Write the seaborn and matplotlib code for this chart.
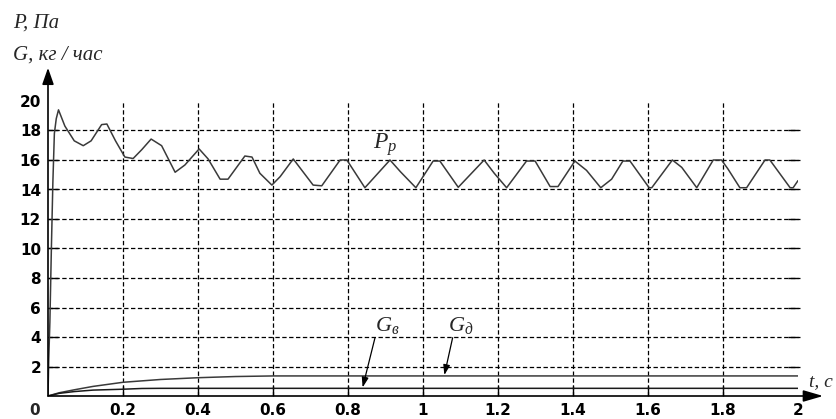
import matplotlib
matplotlib.use('Agg')
import matplotlib.pyplot as plt
import seaborn as sns

# pressure P_p over time
t_p = [0, 0.002, 0.005, 0.009, 0.013, 0.017, 0.022, 0.028, 0.045, 0.07,
       0.094, 0.115, 0.143, 0.157, 0.18, 0.205, 0.227, 0.25, 0.275, 0.303,
       0.339, 0.365, 0.403, 0.427, 0.459, 0.48, 0.525, 0.544, 0.565, 0.597,
       0.619, 0.654, 0.68, 0.707, 0.73, 0.779, 0.797, 0.845, 0.912, 0.94,
       0.981, 1.027, 1.045, 1.094, 1.163, 1.19, 1.223, 1.276, 1.299, 1.339,
       1.36, 1.405, 1.436, 1.474, 1.503, 1.533, 1.552, 1.603, 1.61, 1.665,
       1.69, 1.73, 1.774, 1.796, 1.813, 1.845, 1.863, 1.912, 1.925, 1.979,
       1.987, 2.0]
p_p = [0, 2.5, 5, 10, 14.5, 17.8, 18.8, 19.4, 18.3, 17.3,
       16.97, 17.3, 18.4, 18.44, 17.3, 16.2, 16.1, 16.7, 17.42, 16.97,
       15.17, 15.66, 16.75, 16.07, 14.7, 14.7, 16.27, 16.2, 15.1, 14.3,
       14.87, 16.07, 15.2, 14.3, 14.25, 16.0, 16.0, 14.12, 16.0, 15.2,
       14.12, 15.93, 15.93, 14.15, 16.0, 15.1, 14.12, 15.93, 15.93, 14.2,
       14.2, 15.93, 15.3, 14.12, 14.7, 15.93, 15.93, 14.12, 14.12, 16.0,
       15.5, 14.12, 16.0, 16.0, 15.4, 14.12, 14.12, 16.0, 16.0, 14.12,
       14.12, 14.6]

# flow rates G_д (upper) and G_в (lower)
t_gd = [0, 0.03, 0.07, 0.12, 0.2, 0.3, 0.4, 0.5, 0.6, 2.0]
g_d = [0, 0.22, 0.42, 0.65, 0.93, 1.12, 1.24, 1.32, 1.36, 1.36]
t_gv = [0, 0.03, 0.07, 0.12, 0.2, 0.25, 0.3, 2.0]
g_v = [0, 0.18, 0.3, 0.4, 0.46, 0.51, 0.52, 0.52]

x_ticks = [0.2, 0.4, 0.6, 0.8, 1.0, 1.2, 1.4, 1.6, 1.8, 2.0]
x_labels = ['0.2', '0.4', '0.6', '0.8', '1', '1.2', '1.4', '1.6', '1.8', '2']
y_ticks = [2, 4, 6, 8, 10, 12, 14, 16, 18, 20]

sns.set_style('white')
plt.rcParams['font.family'] = ['DejaVu Sans']
plt.rcParams['mathtext.fontset'] = 'custom'
plt.rcParams['mathtext.rm'] = 'Liberation Serif'
plt.rcParams['mathtext.it'] = 'Liberation Serif:italic'

fig = plt.figure(figsize=(8.37, 4.19), dpi=100)
ax = fig.add_axes([48 / 837, 23 / 419, 750 / 837, 295 / 419])
ax.set_xlim(0, 2)
ax.set_ylim(0, 20)

# dashed grid (no line at the top)
dash = (0, (3.5, 2))
for y in y_ticks[:-1]:
    ax.plot([0, 2.005], [y, y], color='black', lw=0.9, ls=dash, clip_on=False, zorder=1)
for x in x_ticks[:-1]:
    ax.axvline(x, color='black', lw=0.9, ls=dash, zorder=1)

line_col = '#3a3a3a'
sns.lineplot(x=t_p, y=p_p, ax=ax, color=line_col, lw=1.1, estimator=None, zorder=3)
sns.lineplot(x=t_gd, y=g_d, ax=ax, color=line_col, lw=1.1, estimator=None, zorder=3)
sns.lineplot(x=t_gv, y=g_v, ax=ax, color='#1a1a1a', lw=1.1, estimator=None, zorder=3)

for s in ax.spines.values():
    s.set_visible(False)

# axes with arrows
ax.annotate('', xy=(0, 22.25), xytext=(0, 0), annotation_clip=False,
            arrowprops=dict(arrowstyle='-|>,head_length=1.0,head_width=0.35',
                            color='black', lw=1.2, shrinkA=0, shrinkB=0))
ax.annotate('', xy=(2.067, 0), xytext=(0, 0), annotation_clip=False,
            arrowprops=dict(arrowstyle='-|>,head_length=1.2,head_width=0.35',
                            color='black', lw=1.2, shrinkA=0, shrinkB=0))

ax.set_xticks(x_ticks)
ax.set_xticklabels(x_labels)
ax.set_yticks(y_ticks)
ax.set_yticklabels([str(v) for v in y_ticks])
ax.tick_params(axis='both', direction='in', length=7, width=1, colors='black',
               labelsize=11, pad=5)
ax.tick_params(axis='y', right=True, left=True)
ax.tick_params(axis='x', bottom=True)
for lbl in ax.get_xticklabels() + ax.get_yticklabels():
    lbl.set_fontweight('bold')
ax.xaxis.get_major_ticks()[-1].tick1line.set_visible(False)
ax.yaxis.get_major_ticks()[-1].tick1line.set_visible(False)
ax.yaxis.get_major_ticks()[-1].tick2line.set_visible(False)
ax.text(-13 / 750, -14 / 295, '0', transform=ax.transAxes, ha='center', va='center',
        fontsize=11, fontweight='bold')

ax.set_xlabel('')
ax.set_ylabel('')

# axis captions
serif_it = dict(family='Liberation Serif', style='italic', fontsize=15)
fig.text(13 / 837, 1 - 28 / 419, 'P, Па', va='baseline', ha='left', **serif_it)
fig.text(13 / 837, 1 - 60 / 419, 'G, кг / час', va='baseline', ha='left', **serif_it)
fig.text(809 / 837, 1 - 386 / 419, 't, c', va='baseline', ha='left',
         family='Liberation Serif', style='italic', fontsize=14)

# curve labels
fig.text(373 / 837, 1 - 149 / 419, r'$P_p$', va='baseline', ha='left', fontsize=17)
fig.text(375 / 837, 1 - 331 / 419, r'$G_в$', va='baseline', ha='left', fontsize=16)
fig.text(448 / 837, 1 - 331 / 419, r'$G_д$', va='baseline', ha='left', fontsize=16)

ax.annotate('', xy=(0.839, 0.58), xytext=(0.872, 3.95),
            arrowprops=dict(arrowstyle='-|>,head_length=0.6,head_width=0.2',
                            color='black', lw=0.9, shrinkA=0, shrinkB=0))
ax.annotate('', xy=(1.057, 1.42), xytext=(1.079, 3.95),
            arrowprops=dict(arrowstyle='-|>,head_length=0.6,head_width=0.2',
                            color='black', lw=0.9, shrinkA=0, shrinkB=0))

fig.savefig('out.png', dpi=100)
